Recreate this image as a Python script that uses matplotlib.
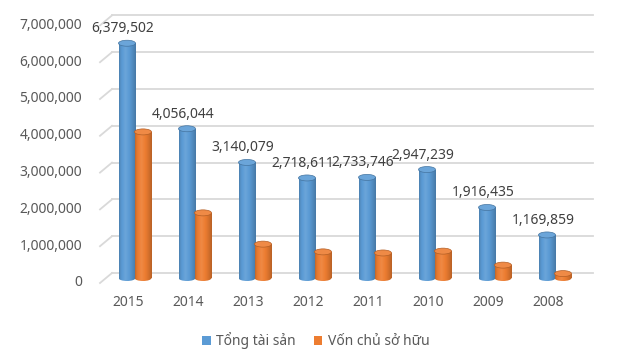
import matplotlib.pyplot as plt
import numpy as np
from matplotlib.patches import Ellipse, Patch

years = ['2015', '2014', '2013', '2012', '2011', '2010', '2009', '2008']
tong_tai_san = [6379502, 4056044, 3140079, 2718611, 2733746, 2947239, 1916435, 1169859]
von_chu_so_huu = [3970000, 1770000, 920000, 710000, 680000, 730000, 350000, 120000]
y_ticks = [0, 1000000, 2000000, 3000000, 4000000, 5000000, 6000000, 7000000]

BLUE = np.array([0x5B, 0x9B, 0xD5]) / 255
ORANGE = np.array([0xED, 0x7D, 0x31]) / 255
TXT = '#595959'

PX_X = 60.0          # px per category
ppv = 36.8 / 1e6     # px per value unit


def shade(base, f):
    if f >= 1:
        return base + (1 - base) * (f - 1)
    return base * f


def gradient(base):
    t = np.linspace(0, 1, 64)
    f = np.interp(t, [0, 0.1, 0.38, 0.75, 1], [0.82, 0.95, 1.1, 0.93, 0.78])
    row = np.array([shade(base, v) for v in f])
    return row[np.newaxis, :, :]


def cylinder(ax, x, h, w, base):
    eh = 6 / ppv
    bar = ax.bar(x, h, width=w, color='none', linewidth=0, zorder=3)[0]
    img = ax.imshow(gradient(base), extent=[x - w / 2, x + w / 2, 0, h],
                    aspect='auto', interpolation='bilinear', zorder=3)
    img.set_clip_path(bar)
    bot = Ellipse((x, 0), w, eh, facecolor='none', edgecolor='none', zorder=2.9)
    ax.add_patch(bot)
    img2 = ax.imshow(gradient(base), extent=[x - w / 2, x + w / 2, -eh / 2, 0],
                     aspect='auto', interpolation='bilinear', zorder=2.9)
    img2.set_clip_path(bot)
    ax.add_patch(Ellipse((x, h), w, eh, facecolor=tuple(shade(base, 1.1)),
                         edgecolor=tuple(shade(base, 0.75)), linewidth=0.5, zorder=4))


fig = plt.figure(figsize=(6.21, 3.62), dpi=100)
ax = fig.add_axes([0, 0, 1, 1])
ax.set_axis_off()

plt.rcParams['font.family'] = ['Noto Sans', 'DejaVu Sans']

d = 5 / ppv
x_back0, x_back1, x_front = -15 / PX_X, 466 / PX_X, -27 / PX_X
for v in y_ticks:
    ax.plot([x_back0, x_back1], [v + d, v + d], color='#D9D9D9', lw=1.3, zorder=1)
    ax.plot([x_front, x_back0], [v - d, v + d], color='#D9D9D9', lw=1.3, zorder=1)
    ax.text(-45 / PX_X, v - d, f'{v:,}', ha='right', va='center', fontsize=10, color=TXT)

w = 17 / PX_X
off = 16 / PX_X
xs = np.arange(len(years))
for i in xs:
    cylinder(ax, i, tong_tai_san[i], w, BLUE)
for i in xs:
    cylinder(ax, i + off, von_chu_so_huu[i], w, ORANGE)

for i in xs:
    ax.text(i - 4 / PX_X, tong_tai_san[i] + 14.5 / ppv, f'{tong_tai_san[i]:,}',
            ha='center', va='center', fontsize=10, color='#404040', zorder=5)
    ax.text(i + 1 / PX_X, -25 / ppv, years[i], ha='center', va='center', fontsize=10, color=TXT)

ax.set_xlim(-127 / PX_X, (621 - 127) / PX_X)
ax.set_ylim(-(362 - 278) / ppv, 278 / ppv)

handles = [Patch(facecolor=tuple(BLUE), label='Tổng tài sản'),
           Patch(facecolor=tuple(ORANGE), label='Vốn chủ sở hữu')]
fig.legend(handles=handles, loc='center', bbox_to_anchor=(0.509, 0.058), ncol=2,
           frameon=False, fontsize=10, labelcolor=TXT, handlelength=0.6, handleheight=0.6,
           handletextpad=0.4, columnspacing=1.3)

fig.savefig('out.png', dpi=100)
